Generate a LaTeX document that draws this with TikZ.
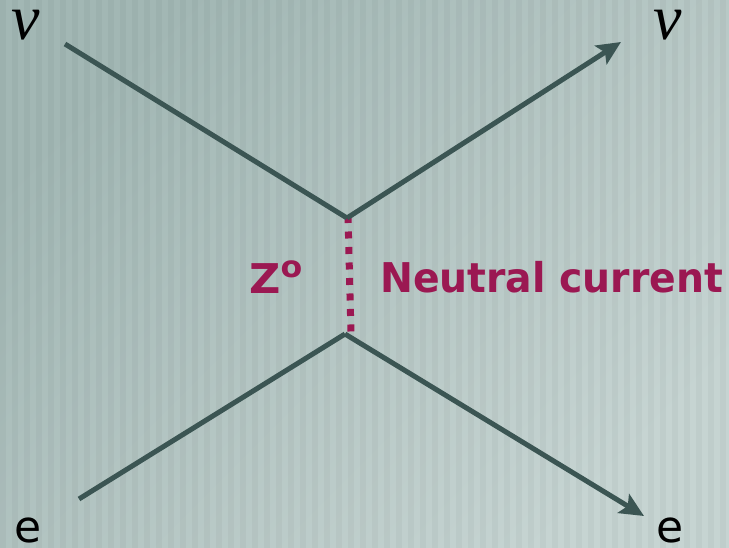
\documentclass[tikz,border=0pt]{standalone}
\usepackage{fontspec}
\setmainfont{DejaVu Sans}
\newfontfamily\greekfont{Liberation Serif}
\usetikzlibrary{arrows.meta}
\definecolor{linecol}{HTML}{3B5553}
\definecolor{zcol}{HTML}{9B1852}
\definecolor{bgA}{HTML}{A2B7B4}
\definecolor{bgB}{HTML}{C6D4D2}
\tikzset{
  particle/.style={draw=linecol, line width=5pt},
  arrowed/.style={particle, -{Stealth[length=24pt,width=22pt,inset=5pt]}},
  boson/.style={draw=zcol, line width=7pt, dash pattern=on 7pt off 8.5pt},
  nu/.style={font=\greekfont\itshape\fontsize{64}{64}\selectfont, inner sep=0pt, text=black, anchor=base},
  elec/.style={font=\fontsize{44}{44}\selectfont, inner sep=0pt, text=black},
  lbl/.style={font=\bfseries\fontsize{41}{41}\selectfont, inner sep=0pt, text=zcol}
}
\begin{document}
\begin{tikzpicture}[x=1pt,y=-1pt]
\useasboundingbox (0,0) rectangle (729,548);
\shade[top color=bgA, bottom color=bgB, shading angle=45] (0,0) rectangle (729,548);
\foreach \i in {0,12,...,720} {
  \fill[black, opacity=0.03] (\i,0) rectangle (\i+6,548);
}
\coordinate (a) at (65,44);
\coordinate (v1) at (347,218);
\coordinate (b) at (621,42);
\coordinate (c) at (79,499);
\coordinate (v2) at (345,334);
\coordinate (d) at (644,516);
\coordinate (zt) at (348,216);
\coordinate (zb) at (351,334);
\draw[boson] (zt) -- (zb);
\draw[particle] (a) -- (v1);
\draw[arrowed] (v1) -- (b);
\draw[particle] (c) -- (v2);
\draw[arrowed] (v2) -- (d);
\node[nu] (nuL) at (26,40) {ν};
\node[nu] (nuR) at (668,40) {ν};
\node[elec] (eL) at (28,530) {e};
\node[elec] (eR) at (670,530) {e};
\node[lbl, anchor=base west] (z) at (249,294) {\resizebox{53pt}{\height}{Z\raisebox{16pt}{\fontsize{30}{30}\selectfont o}}};
\node[lbl, anchor=base west] (nc) at (380,293) {\resizebox{343pt}{\height}{Neutral current}};
\end{tikzpicture}
\end{document}
